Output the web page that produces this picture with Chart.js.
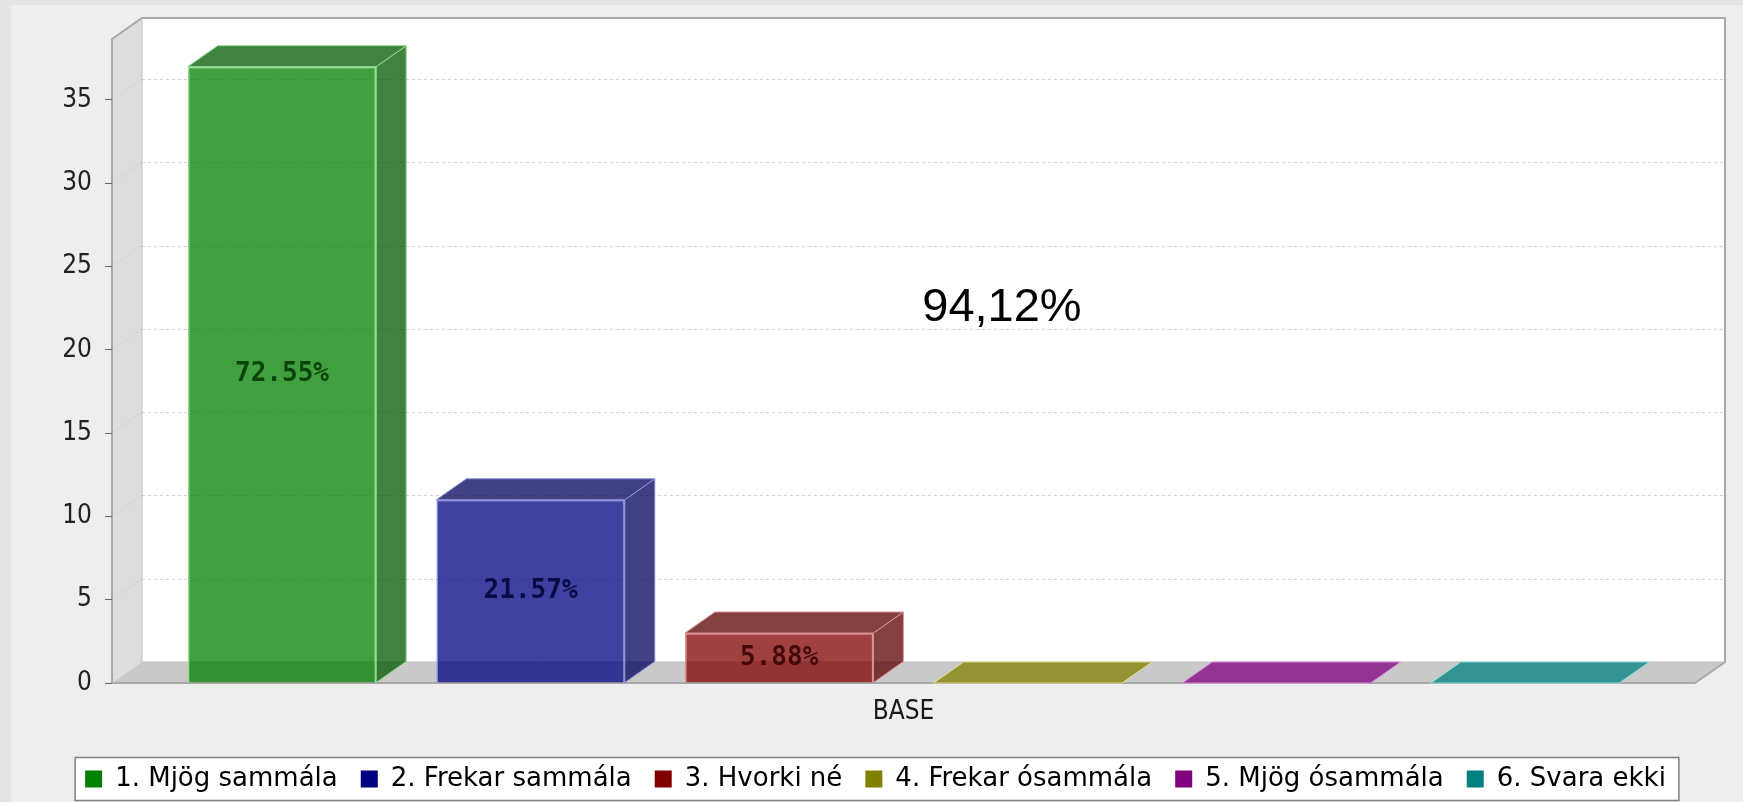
<!DOCTYPE html>
<html>
<head>
<meta charset="utf-8">
<script src="https://cdn.jsdelivr.net/npm/chart.js@4.4.1/dist/chart.umd.min.js"></script>
<style>
  html, body { margin: 0; padding: 0; background: #eeeeee; }
  #wrap { width: 1743px; height: 802px; position: relative; }
</style>
</head>
<body>
<div id="wrap"><canvas id="chart"></canvas></div>
<script>
// data (counts, total 51)
const categories = ['BASE'];
const seriesNames = ['1. Mjög sammála', '2. Frekar sammála', '3. Hvorki né', '4. Frekar ósammála', '5. Mjög ósammála', '6. Svara ekki'];
const seriesValues = [37, 11, 3, 0, 0, 0];
const yTicks = [0, 5, 10, 15, 20, 25, 30, 35];
const yMax = 38.66;
const annotationText = '94,12%';

const seriesColors = ['#008000', '#000080', '#800000', '#808000', '#800080', '#008080'];
const DX = 30, DY = 21; // 3d depth

function rgb(hex) {
    const n = parseInt(hex.slice(1), 16);
    return [(n >> 16) & 255, (n >> 8) & 255, n & 255];
}
function rgba(c, a) { return `rgba(${c[0]},${c[1]},${c[2]},${a})`; }
function darker(c) { return c.map(v => Math.floor(v * 0.7)); }
function outline(c) {
    const f = c.map(v => v * 0.75 + 255 * 0.25);
    const mx = Math.max(...c);
    return 'rgb(' + f.map((v, i) => c[i] === mx && mx > 0 ? Math.min(255, v * 1.4) : v + (255 - v) * 0.42).map(Math.round).join(',') + ')';
}
function labelColor(c) { return 'rgb(' + c.map(v => Math.round(v * 0.45 + 10)).join(',') + ')'; }

function poly(ctx, pts, fill, stroke, lw) {
    ctx.beginPath();
    pts.forEach((p, i) => i ? ctx.lineTo(p[0], p[1]) : ctx.moveTo(p[0], p[1]));
    ctx.closePath();
    if (fill) { ctx.fillStyle = fill; ctx.fill(); }
    if (stroke) { ctx.strokeStyle = stroke; ctx.lineWidth = lw || 1; ctx.stroke(); }
}

const total = seriesValues.reduce((s, v) => s + v, 0);

const threeD = {
    id: 'threeD',
    beforeDraw(chart) {
        const { ctx, chartArea: a, scales: { y } } = chart;
        const L = a.left, R = a.right, T = a.top, B = a.bottom;
        ctx.save();
        ctx.fillStyle = '#eeeeee';
        ctx.fillRect(0, 0, chart.width, chart.height);
        ctx.fillStyle = '#e4e4e4';
        ctx.fillRect(0, 0, 11, chart.height);
        ctx.fillRect(0, 0, chart.width, 5);

        // back wall, left wall, floor
        ctx.fillStyle = '#ffffff';
        ctx.fillRect(L + DX, T - DY, R - L, B - T);
        poly(ctx, [[L, T], [L + DX, T - DY], [L + DX, B - DY], [L, B]], '#dddddd');
        poly(ctx, [[L, B], [L + DX, B - DY], [R + DX, B - DY], [R, B]], '#c9c9c9');

        // grid lines
        ctx.lineWidth = 1;
        y.ticks.forEach(t => {
            if (t.value === 0) return;
            const py = y.getPixelForValue(t.value);
            ctx.strokeStyle = '#d2d2d2';
            ctx.setLineDash([3, 3]);
            ctx.beginPath();
            ctx.moveTo(L + DX, Math.round(py - DY) + 0.5);
            ctx.lineTo(R + DX, Math.round(py - DY) + 0.5);
            ctx.stroke();
            ctx.setLineDash([]);
            ctx.strokeStyle = '#d4d4d4';
            ctx.beginPath();
            ctx.moveTo(L, py);
            ctx.lineTo(L + DX, py - DY);
            ctx.stroke();
        });

        // inner edges + outline
        ctx.strokeStyle = '#c0c0c0';
        ctx.beginPath();
        ctx.moveTo(L + DX, T - DY);
        ctx.lineTo(L + DX, B - DY);
        ctx.lineTo(R + DX, B - DY);
        ctx.stroke();
        poly(ctx, [[L, B], [L, T], [L + DX, T - DY], [R + DX, T - DY], [R + DX, B - DY], [R, B]], null, '#a8a8a8', 2);

        // legend frame
        const lg = chart.legend;
        const pad = lg.options.labels.padding;
        const fs = lg.options.labels.font.size;
        const x0 = (lg.left + pad + lg.right - lg.lineWidths[0]) / 2;
        const rowW = lg.lineWidths[0] - pad;
        const cy = lg.top + pad + fs / 2;
        ctx.fillStyle = '#ffffff';
        ctx.fillRect(x0 - 10, cy - 21.5, rowW + 23, 43);
        ctx.strokeStyle = '#808080';
        ctx.lineWidth = 1.5;
        ctx.strokeRect(x0 - 10, cy - 21.5, rowW + 23, 43);
        ctx.restore();
    },
    afterDatasetsDraw(chart) {
        const { ctx, chartArea: a, scales: { y } } = chart;
        ctx.save();
        chart.data.datasets.forEach((ds, i) => {
            const c = rgb(seriesColors[i]);
            const meta = chart.getDatasetMeta(i);
            meta.data.forEach((bar, j) => {
                const p = bar.getProps(['x', 'y', 'base', 'width'], true);
                const l = p.x - p.width / 2, r = p.x + p.width / 2;
                const v = ds.data[j];
                const edge = outline(c);
                if (v > 0) {
                    poly(ctx, [[r, p.y], [r + DX, p.y - DY], [r + DX, p.base - DY], [r, p.base]], rgba(darker(c), 0.75), edge, 1);
                    poly(ctx, [[l, p.y], [l + DX, p.y - DY], [r + DX, p.y - DY], [r, p.y]], rgba(darker(c), 0.75), edge, 1);
                    ctx.fillStyle = labelColor(c);
                    ctx.font = 'bold 26px "DejaVu Sans Mono"';
                    ctx.textAlign = 'center';
                    ctx.textBaseline = 'middle';
                    ctx.fillText((v / total * 100).toFixed(2) + '%', p.x, (p.y + p.base) / 2);
                } else {
                    poly(ctx, [[l, p.base], [l + DX, p.base - DY], [r + DX, p.base - DY], [r, p.base]], rgba(c, 0.75), edge, 1);
                }
            });
        });
        // overlay text
        ctx.fillStyle = '#000000';
        ctx.font = '47px "Liberation Sans", Arial, sans-serif';
        ctx.textAlign = 'center';
        ctx.textBaseline = 'alphabetic';
        ctx.fillText(annotationText, a.left + 0.5622 * (a.right - a.left), y.getPixelForValue(21.75));
        ctx.restore();
    }
};

const datasets = seriesNames.map((name, i) => {
    const c = rgb(seriesColors[i]);
    return {
        label: name,
        data: [seriesValues[i]],
        backgroundColor: rgba(c, 0.75),
        borderColor: outline(c),
        borderWidth: 1.5,
        categoryPercentage: 0.9423,
        barPercentage: 0.758,
    };
});

new Chart(document.getElementById('chart'), {
    type: 'bar',
    data: { labels: categories, datasets },
    options: {
        responsive: true,
        maintainAspectRatio: false,
        animation: false,
        layout: { padding: { left: 8, top: 39, right: 0, bottom: 0 } },
        plugins: {
            tooltip: { enabled: false },
            legend: {
                position: 'bottom',
                labels: {
                    boxWidth: 17,
                    boxHeight: 17,
                    padding: 23,
                    color: '#222222',
                    font: { family: '"DejaVu Sans", sans-serif', size: 26 },
                    generateLabels: (chart) => chart.data.datasets.map((ds, i) => ({
                        text: ds.label,
                        fillStyle: seriesColors[i],
                        strokeStyle: seriesColors[i],
                        lineWidth: 0,
                        hidden: false,
                        datasetIndex: i,
                    })),
                },
            },
        },
        scales: {
            x: {
                grid: { display: false, drawTicks: false },
                border: { display: false },
                ticks: { color: '#1a1a1a', padding: 14, font: { family: '"DejaVu Sans Condensed", "DejaVu Sans"', size: 26 } },
                afterFit(s) { s.height = 60; },
            },
            y: {
                min: 0,
                max: yMax,
                afterBuildTicks(s) { s.ticks = yTicks.map(v => ({ value: v })); },
                grid: { drawOnChartArea: false, drawTicks: true, tickLength: 7, color: '#666666' },
                border: { display: false },
                ticks: { color: '#222222', padding: 13, font: { family: '"DejaVu Sans Condensed", "DejaVu Sans"', size: 26 } },
                afterFit(s) { s.width = 104; },
            },
            yR: {
                type: 'linear',
                position: 'right',
                grid: { display: false, drawTicks: false },
                border: { display: false },
                ticks: { display: false },
                afterFit(s) { s.width = 48; },
            },
        },
    },
    plugins: [threeD],
});
</script>
</body>
</html>
